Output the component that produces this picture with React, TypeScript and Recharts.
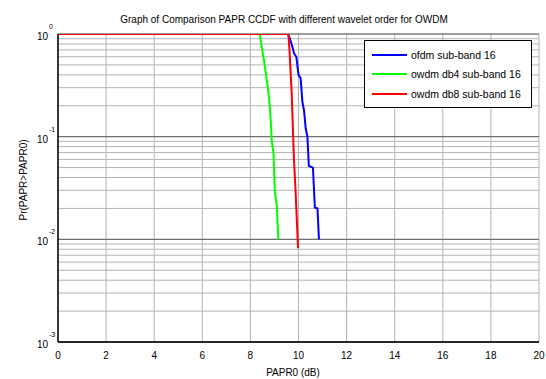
import { CartesianGrid, Line, LineChart, ReferenceLine, XAxis, YAxis } from 'recharts'

type Pt = { x: number; y: number }

const ofdm16: Pt[] = [
  { x: 0, y: 1 }, { x: 9.55, y: 1 }, { x: 9.62, y: 0.93 }, { x: 9.74, y: 0.76 }, { x: 9.81, y: 0.65 },
  { x: 9.91, y: 0.6 }, { x: 10.0, y: 0.4 }, { x: 10.09, y: 0.37 }, { x: 10.16, y: 0.22 }, { x: 10.23, y: 0.18 },
  { x: 10.3, y: 0.12 }, { x: 10.37, y: 0.1 }, { x: 10.43, y: 0.052 }, { x: 10.6, y: 0.05 }, { x: 10.68, y: 0.0204 },
  { x: 10.79, y: 0.02 }, { x: 10.85, y: 0.01 },
]
const owdmDb4: Pt[] = [
  { x: 0, y: 1 }, { x: 8.39, y: 1 }, { x: 8.48, y: 0.73 }, { x: 8.57, y: 0.54 }, { x: 8.67, y: 0.37 },
  { x: 8.78, y: 0.236 }, { x: 8.85, y: 0.139 }, { x: 8.89, y: 0.089 }, { x: 8.96, y: 0.07 }, { x: 9.01, y: 0.031 },
  { x: 9.1, y: 0.0206 }, { x: 9.16, y: 0.01 },
]
const owdmDb8: Pt[] = [
  { x: 0, y: 1 }, { x: 9.58, y: 1 }, { x: 9.62, y: 0.73 }, { x: 9.72, y: 0.254 }, { x: 9.81, y: 0.061 },
  { x: 9.88, y: 0.029 }, { x: 9.98, y: 0.0082 },
]

const xTicks = [0, 2, 4, 6, 8, 10, 12, 14, 16, 18, 20]
const decades = [0.001, 0.01, 0.1, 1]
const yTicks = [
  ...[0.001, 0.01, 0.1].flatMap((d) => [1, 2, 3, 4, 5, 6, 7, 8, 9].map((m) => +(d * m).toPrecision(3))),
  1,
]

const series = [
  { name: 'ofdm sub-band 16', color: '#0000ff', data: ofdm16 },
  { name: 'owdm db4 sub-band 16', color: '#00ff00', data: owdmDb4 },
  { name: 'owdm db8 sub-band 16', color: '#ff0000', data: owdmDb8 },
]

const font = 'Arial, "Liberation Sans", Helvetica, sans-serif'

function YTick(props: any) {
  const { y, payload } = props
  const v = payload.value
  if (!decades.includes(v)) return null
  const exp = Math.round(Math.log10(v))
  return (
    <g fontFamily={font} fill="#000">
      <text x={48} y={y + 6} textAnchor="end" fontSize={10}>10</text>
      <text x={49} y={y - 5} textAnchor="start" fontSize={7}>{exp === 0 ? '0' : exp}</text>
    </g>
  )
}

// legend box drawn as a plain overlay, like the MATLAB one
function LegendBox() {
  return (
    <div
      style={{
        position: 'absolute',
        left: 364,
        top: 40,
        border: '1px solid #000',
        background: '#fff',
        padding: '4px 8px 3px 7px',
        fontFamily: font,
        fontSize: 10.5,
        width: 151,
        zIndex: 3,
      }}
    >
      {series.map((s) => (
        <div key={s.name} style={{ display: 'flex', alignItems: 'center', height: 19.5 }}>
          <span style={{ display: 'inline-block', width: 35, height: 2, background: s.color, marginRight: 4 }} />
          <span>{s.name}</span>
        </div>
      ))}
    </div>
  )
}

export default function App() {
  return (
    <div style={{ position: 'absolute', left: 0, top: 0, width: 546, height: 379, background: '#fff' }}>
      <svg width={546} height={379} style={{ position: 'absolute', left: 0, top: 0, pointerEvents: 'none', zIndex: 2 }}>
        <text x={284} y={23} textAnchor="middle" fontFamily={font} fontSize={10} fill="#000">
          Graph of Comparison PAPR CCDF with different wavelet order for OWDM
        </text>
        <text x={293} y={376} textAnchor="middle" fontFamily={font} fontSize={10} fill="#000">
          PAPR0 (dB)
        </text>
        <text
          x={27}
          y={180}
          textAnchor="middle"
          fontFamily={font}
          fontSize={10}
          fill="#000"
          transform="rotate(-90 27 180)"
        >
          Pr(PAPR&gt;PAPR0)
        </text>
      </svg>
      <LegendBox />
      <LineChart width={546} height={379} margin={{ top: 34, right: 7, left: 0, bottom: 0 }}>
        <CartesianGrid stroke="#b4b4b4" strokeWidth={1} />
        {decades.map((d) => (
          <ReferenceLine key={d} y={d} stroke="#606060" strokeWidth={1} />
        ))}
        <XAxis
          dataKey="x"
          type="number"
          domain={[0, 20]}
          ticks={xTicks}
          height={37}
          axisLine={{ stroke: '#000', strokeWidth: 1.5 }}
          tickLine={false}
          tickSize={4}
          tickMargin={6}
          tick={{ fontSize: 10, fill: '#000', fontFamily: font }}
          allowDataOverflow
        />
        <XAxis xAxisId="top" orientation="top" type="number" domain={[0, 20]} height={0} tick={false} axisLine={{ stroke: '#000', strokeWidth: 1.5 }} />
        <YAxis
          dataKey="y"
          scale="log"
          domain={[0.001, 1]}
          ticks={yTicks}
          width={58}
          interval={0}
          axisLine={{ stroke: '#000', strokeWidth: 1.5 }}
          tickLine={false}
          tick={<YTick />}
          allowDataOverflow
        />
        <YAxis yAxisId="right" orientation="right" width={0} tick={false} axisLine={{ stroke: '#000', strokeWidth: 1.5 }} />
        {series.map((s) => (
          <Line
            key={s.name}
            data={s.data}
            dataKey="y"
            name={s.name}
            type="linear"
            stroke={s.color}
            strokeWidth={2}
            dot={false}
            isAnimationActive={false}
          />
        ))}
      </LineChart>
    </div>
  )
}
